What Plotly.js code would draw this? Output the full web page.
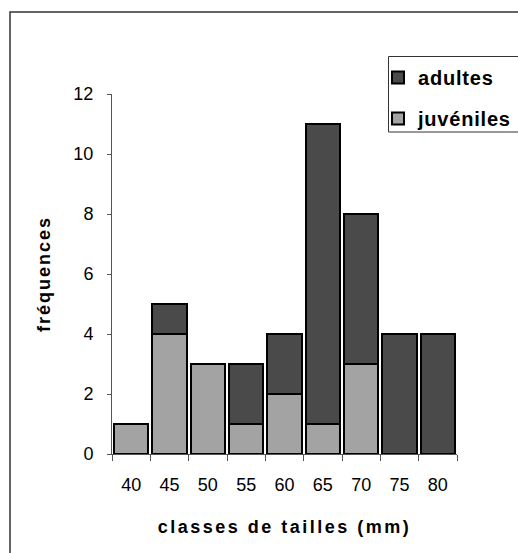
<!DOCTYPE html>
<html>
<head>
<meta charset="utf-8">
<script src="https://cdn.plot.ly/plotly-3.0.1.min.js"></script>
<style>
html,body{margin:0;padding:0;background:#fff;}
#chart text.xtitle{letter-spacing:2.5px;}
#chart text.ytitle{letter-spacing:2px;}
#chart text.legendtext{letter-spacing:0.8px;}
</style>
</head>
<body>
<div id="chart" style="width:518px;height:553px;"></div>
<script>
var categories = ["40", "45", "50", "55", "60", "65", "70", "75", "80"];
var juveniles = [1, 4, 3, 1, 2, 1, 3, 0, 0];
var adultes = [0, 1, 0, 2, 2, 10, 5, 4, 4];
var yTicks = [0, 2, 4, 6, 8, 10, 12];

var traces = [
  {
    type: "bar", name: "juvéniles", x: categories, y: juveniles,
    legendgroup: "j", legendrank: 2,
    marker: {color: "#a3a3a3", line: {color: "#000", width: 2}},
    hoverinfo: "none"
  },
  {
    type: "bar", name: "adultes", x: categories, y: adultes,
    legendgroup: "a", legendrank: 1,
    marker: {color: "#4a4a4a", line: {color: "#000", width: 2}},
    hoverinfo: "none"
  }
];

var W = 518, H = 553;
var ml = 112, mr = 61, mt = 94, mb = 99;
var plotW = W - ml - mr, plotH = H - mt - mb;
function px(x) { return (x - ml) / plotW; }
function py(y) { return (H - mb - y) / plotH; }

var layout = {
  width: W, height: H,
  margin: {l: ml, r: mr, t: mt, b: mb, autoexpand: false},
  paper_bgcolor: "#fff", plot_bgcolor: "#fff",
  barmode: "stack", bargap: 0.1,
  font: {family: "Liberation Sans, Arial, sans-serif", size: 18, color: "#000"},
  showlegend: true,
  legend: {
    x: 378 / W, y: 1 - 58 / H, xref: "container", yref: "container",
    xanchor: "left", yanchor: "top",
    borderwidth: 0, bgcolor: "rgba(0,0,0,0)",
    font: {family: "Liberation Sans, Arial, sans-serif", size: 20, weight: "bold"},
    traceorder: "grouped", tracegroupgap: 12
  },
  xaxis: {
    type: "category", range: [-0.5, 8.5],
    showline: true, linecolor: "#555", linewidth: 1,
    ticks: "outside", tickson: "boundaries", ticklen: 6, tickcolor: "#555",
    ticklabelstandoff: 14,
    showgrid: false, zeroline: false, fixedrange: true,
    tickfont: {size: 18},
    title: {text: "classes de tailles (mm)", font: {size: 18, weight: "bold"}, standoff: 26}
  },
  yaxis: {
    range: [0, 12], tickvals: yTicks,
    showline: true, linecolor: "#555", linewidth: 1,
    ticks: "outside", ticklen: 4, tickcolor: "#555",
    ticklabelstandoff: 10,
    showgrid: false, zeroline: false, fixedrange: true,
    tickfont: {size: 18},
    title: {text: "fréquences", font: {size: 18, weight: "bold"}, standoff: 18}
  },
  shapes: [
    {type: "rect", xref: "paper", yref: "paper",
     x0: px(10), x1: px(530), y0: py(570), y1: py(12),
     line: {color: "#333", width: 1.5}, fillcolor: "rgba(0,0,0,0)", layer: "below"},
    {type: "rect", xref: "paper", yref: "paper",
     x0: px(388.5), x1: px(530), y0: py(132), y1: py(56.5),
     line: {color: "#333", width: 1}, fillcolor: "rgba(0,0,0,0)", layer: "above"}
  ]
};

Plotly.newPlot("chart", traces, layout, {displayModeBar: false, staticPlot: true});
</script>
</body>
</html>
